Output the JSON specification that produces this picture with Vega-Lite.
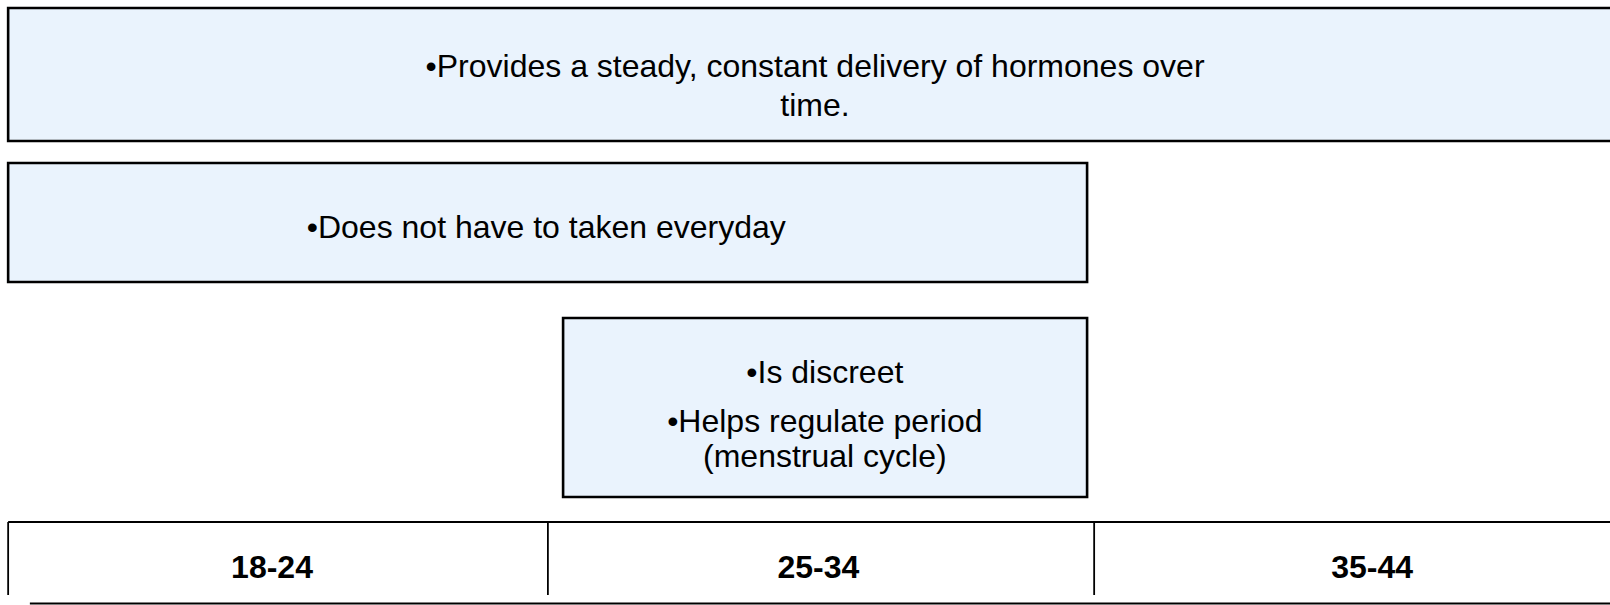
{
  "$schema": "https://vega.github.io/schema/vega-lite/v6.json",
  "width": 1610,
  "height": 605,
  "padding": 0,
  "autosize": {"type": "none"},
  "background": "white",
  "config": {"view": {"stroke": null}, "text": {"font": "Liberation Sans"}},
  "datasets": {
    "benefits": [
      {"benefit": "Steady hormone delivery", "from": 0, "to": 3.1, "top": 8, "bottom": 141},
      {"benefit": "Not taken everyday", "from": 0, "to": 1.987, "top": 163, "bottom": 282},
      {"benefit": "Discreet, regulates period", "from": 1.022, "to": 1.987, "top": 318, "bottom": 497}
    ],
    "lines": [
      {"line": "•Provides a steady, constant delivery of hormones over", "pos": 1.486, "base": 77},
      {"line": "time.", "pos": 1.486, "base": 116},
      {"line": "•Does not have to taken everyday", "pos": 0.991, "base": 238},
      {"line": "•Is discreet", "pos": 1.504, "base": 383},
      {"line": "•Helps regulate period", "pos": 1.504, "base": 432},
      {"line": "(menstrual cycle)", "pos": 1.504, "base": 467}
    ],
    "ages": [
      {"age": "18-24", "mid": 0.486},
      {"age": "25-34", "mid": 1.492},
      {"age": "35-44", "mid": 2.512}
    ],
    "dividers": [
      {"at": 0, "top": 522, "bottom": 595},
      {"at": 0.994, "top": 522, "bottom": 595},
      {"at": 2.0, "top": 522, "bottom": 595}
    ],
    "hlines": [
      {"from": 0, "to": 3.1, "level": 522},
      {"from": 0.04, "to": 3.1, "level": 603.5}
    ]
  },
  "layer": [
    {
      "data": {"name": "benefits"},
      "mark": {"type": "rect", "fill": "#eaf3fd", "stroke": "#000000", "strokeWidth": 2.6, "clip": true},
      "encoding": {
        "x": {"field": "from", "type": "quantitative", "scale": {"domain": [-0.015, 2.95], "nice": false, "zero": false}, "axis": null},
        "x2": {"field": "to"},
        "y": {"field": "top", "type": "quantitative", "scale": {"domain": [0, 605], "reverse": true, "nice": false}, "axis": null},
        "y2": {"field": "bottom"}
      }
    },
    {
      "data": {"name": "lines"},
      "mark": {"type": "text", "fontSize": 32, "align": "center", "baseline": "alphabetic", "color": "#000000"},
      "encoding": {
        "x": {"field": "pos", "type": "quantitative"},
        "y": {"field": "base", "type": "quantitative"},
        "text": {"field": "line"}
      }
    },
    {
      "data": {"name": "dividers"},
      "mark": {"type": "rule", "color": "#000000", "strokeWidth": 1.8, "clip": true},
      "encoding": {
        "x": {"field": "at", "type": "quantitative"},
        "y": {"field": "top", "type": "quantitative"},
        "y2": {"field": "bottom"}
      }
    },
    {
      "data": {"name": "hlines"},
      "mark": {"type": "rule", "color": "#000000", "strokeWidth": 2, "clip": true},
      "encoding": {
        "x": {"field": "from", "type": "quantitative"},
        "x2": {"field": "to"},
        "y": {"field": "level", "type": "quantitative"}
      }
    },
    {
      "data": {"name": "ages"},
      "mark": {"type": "text", "fontSize": 32, "fontWeight": "bold", "align": "center", "baseline": "alphabetic", "color": "#000000"},
      "encoding": {
        "x": {"field": "mid", "type": "quantitative"},
        "y": {"datum": 578, "type": "quantitative"},
        "text": {"field": "age"}
      }
    }
  ]
}
